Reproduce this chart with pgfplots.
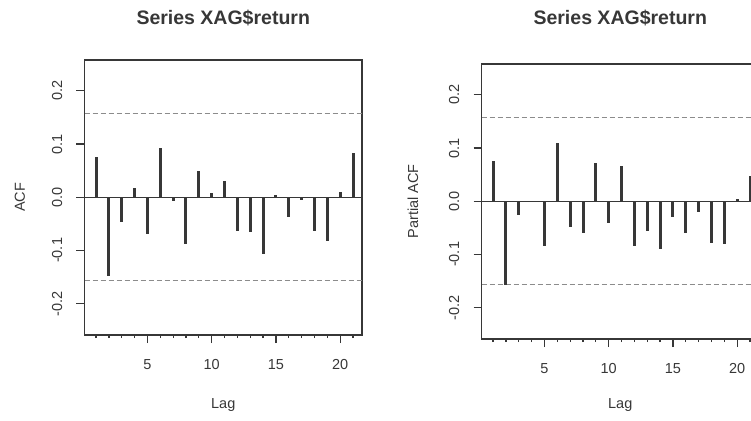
\documentclass[border=0pt]{standalone}
\usepackage{pgfplots}
\pgfplotsset{compat=1.18}
\usepackage{fontspec}
\setmainfont{Liberation Sans}
\definecolor{ink}{RGB}{55,55,55}
\definecolor{cigray}{RGB}{140,140,140}

\pgfplotstableread{
lag acf
1 0.075
2 -0.149
3 -0.047
4 0.018
5 -0.070
6 0.092
7 -0.008
8 -0.087
9 0.050
10 0.008
11 0.031
12 -0.063
13 -0.066
14 -0.107
15 0.004
16 -0.038
17 -0.006
18 -0.063
19 -0.082
20 0.009
21 0.084
}\acfdata

\pgfplotstableread{
lag pacf
1 0.075
2 -0.157
3 -0.025
4 -0.001
5 -0.085
6 0.110
7 -0.049
8 -0.060
9 0.071
10 -0.041
11 0.067
12 -0.085
13 -0.056
14 -0.089
15 -0.030
16 -0.060
17 -0.021
18 -0.078
19 -0.081
20 0.004
21 0.047
}\pacfdata

\pgfplotsset{
  racf/.style={
    scale only axis,
    width=277.5pt, height=275pt,
    anchor=south west,
    xmin=0.1, xmax=21.7,
    ymin=-0.259, ymax=0.258,
    xtick={5,10,15,20}, xticklabels={5,10,15,20},
    minor xtick={1,...,21},
    ytick={-0.2,-0.1,0,0.1,0.2},
    yticklabels={-0.2,-0.1,0.0,0.1,0.2},
    xtick pos=bottom, ytick pos=left,
    tick align=outside,
    major tick length=8pt, minor tick length=3pt,
    tick style={line width=1.2pt, color=ink},
    axis line style={line width=1.4pt, color=ink},
    ticklabel style={font=\fontsize{14.5}{16}\selectfont, text=ink},
    xticklabel style={anchor=north, inner sep=0pt},
    yticklabel style={rotate=90, anchor=south, inner sep=0pt},
    xticklabel shift=16.5pt,
    yticklabel shift=14pt,
    label style={font=\fontsize{14.5}{16}\selectfont, text=ink},
    title style={font=\bfseries\fontsize{19.5}{22}\selectfont, text=ink, anchor=center},
    xlabel={Lag},
  },
  bars/.style={ycomb, line width=3pt, color=ink},
  ci/.style={cigray, line width=1.1pt, dash pattern=on 5pt off 3pt},
}

\begin{document}
\begin{tikzpicture}
\begin{axis}[racf,
  at={(84.5pt,85pt)},
  title={Series XAG\$return},
  title style={at={(axis description cs:0.5,1.1305)}},
  ylabel={ACF},
  ylabel style={at={(axis description cs:-0.2324,0.5)}, anchor=center},
  xlabel style={at={(axis description cs:0.5,-0.2545)}, anchor=center},
]
\addplot[ink, line width=1.2pt] coordinates {(0.1,0) (21.7,0)};
\addplot[ci] coordinates {(0.1,0.157) (21.7,0.157)};
\addplot[ci] coordinates {(0.1,-0.157) (21.7,-0.157)};
\addplot[bars] table[x=lag, y=acf] {\acfdata};
\end{axis}

\begin{axis}[racf,
  at={(481.5pt,81pt)},
  title={Series XAG\$return},
  title style={at={(axis description cs:0.5,1.1455)}},
  ylabel={Partial ACF},
  ylabel style={at={(axis description cs:-0.247,0.5)}, anchor=center},
  xlabel style={at={(axis description cs:0.5,-0.24)}, anchor=center},
]
\addplot[ink, line width=1.2pt] coordinates {(0.1,0) (21.7,0)};
\addplot[ci] coordinates {(0.1,0.157) (21.7,0.157)};
\addplot[ci] coordinates {(0.1,-0.157) (21.7,-0.157)};
\addplot[bars] table[x=lag, y=pacf] {\pacfdata};
\end{axis}

\pgfresetboundingbox
\path[use as bounding box] (0,0) rectangle (751pt,420pt);
\end{tikzpicture}
\end{document}
